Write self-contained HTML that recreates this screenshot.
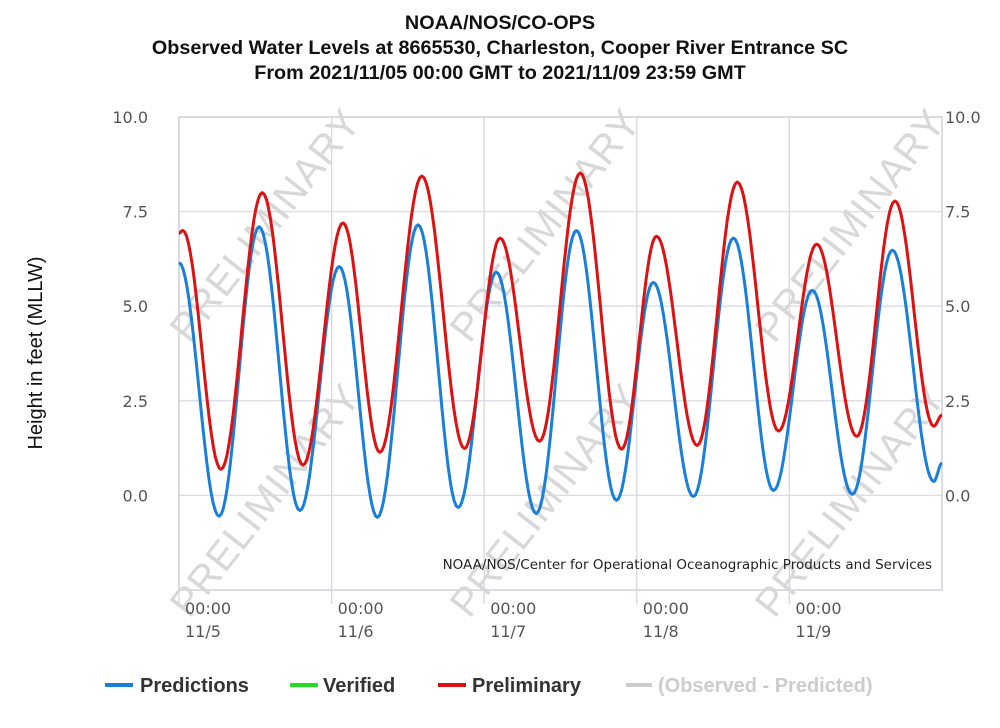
<!DOCTYPE html>
<html><head><meta charset="utf-8"><style>
body{margin:0;background:#fff;}
svg{display:block;font-family:"Liberation Sans",sans-serif;}
</style></head><body>
<svg id="chart" width="1000" height="728" viewBox="0 0 1000 728">
<g font-weight="bold" font-size="19.8" text-anchor="middle" fill="#111">
<text x="500" y="29">NOAA/NOS/CO-OPS</text>
<text x="500" y="54">Observed Water Levels at 8665530, Charleston, Cooper River Entrance SC</text>
<text x="500" y="79">From 2021/11/05 00:00 GMT to 2021/11/09 23:59 GMT</text>
</g>
<text transform="translate(42,353) rotate(-90)" text-anchor="middle" font-size="20" fill="#111">Height in feet (MLLW)</text>
<g id="grid"></g>
<g id="watermarks" font-size="40" fill="#d8d8d8" text-anchor="middle" letter-spacing="1"></g>
<text x="932" y="569" text-anchor="end" font-family="DejaVu Sans, sans-serif" font-size="13.5" fill="#222">NOAA/NOS/Center for Operational Oceanographic Products and Services</text>
<g id="series"></g>
<g id="axes" font-family="DejaVu Sans, sans-serif"></g>
<g font-weight="bold" font-size="20">
<g><rect x="105" y="683" width="28" height="4" fill="#1a7fd9"/><text x="140" y="692" fill="#333">Predictions</text></g>
<g><rect x="290" y="683" width="28" height="4" fill="#22dd22"/><text x="323" y="692" fill="#333">Verified</text></g>
<g><rect x="438" y="683" width="28" height="4" fill="#dd1111"/><text x="472" y="692" fill="#333">Preliminary</text></g>
<g><rect x="626" y="683" width="26" height="4" fill="#cccccc"/><text x="658" y="692" fill="#cccccc">(Observed - Predicted)</text></g>
</g>
</svg>
<script>
// Data: extrema (hours since 11/05 00:00 GMT, feet)
const predHours = [0,6.3,12.6,19.0,25.2,31.2,37.6,43.9,49.9,56.2,62.5,68.8,74.6,80.9,87.2,93.5,99.6,105.9,112.2,118.7,120];
const predValues = [6.15,-0.55,7.1,-0.4,6.05,-0.58,7.15,-0.32,5.9,-0.48,7.0,-0.13,5.63,-0.03,6.8,0.13,5.42,0.03,6.48,0.37,0.85];
const prelimHours = [0,0.6,6.6,13.1,19.5,25.8,31.6,38.2,44.9,50.5,56.7,63.1,69.6,75.1,81.5,87.8,94.3,100.3,106.6,112.6,118.7,120];
const prelimValues = [6.93,7.0,0.69,8.0,0.8,7.2,1.14,8.44,1.24,6.8,1.43,8.52,1.22,6.85,1.32,8.28,1.7,6.64,1.56,7.78,1.83,2.12];
const yTicks = [0,2.5,5,7.5,10];
const yTickLabels = ["0.0","2.5","5.0","7.5","10.0"];
const dayTicks = [0,24,48,72,96];
const dayLabels = ["11/5","11/6","11/7","11/8","11/9"];

const L=179,R=942,T=117,B=590;
const NS='http://www.w3.org/2000/svg';
const x=h=>L+(h/120)*(R-L);
const y=v=>B-((v+2.5)/12.5)*(B-T);
function mk(tag,attrs,parent){const e=document.createElementNS(NS,tag);for(const k in attrs)e.setAttribute(k,attrs[k]);parent.appendChild(e);return e;}
const grid=document.getElementById('grid'),axes=document.getElementById('axes'),series=document.getElementById('series'),wm=document.getElementById('watermarks');

yTicks.forEach((v,i)=>{
  const g=mk('line',{x1:L,x2:R,y1:y(v),y2:y(v),stroke:'#dcdce4','stroke-width':1.3},grid);
  
  
  const t1=mk('text',{x:148,y:y(v)+6,'text-anchor':'end','font-size':16,fill:'#555'},axes);
  t1.textContent=yTickLabels[i];
  
  
  const t2=mk('text',{x:945,y:y(v)+6,'font-size':16,fill:'#555'},axes);
  t2.textContent=yTickLabels[i];
  
  
});
dayTicks.forEach((h,i)=>{
  const g=mk('line',{x1:x(h),x2:x(h),y1:T,y2:B+14,stroke:'#d4d6e2','stroke-width':1.3},grid);
  
  
  const t=mk('text',{x:x(h)+6,y:614,'font-size':16,fill:'#555'},axes);
  t.textContent='00:00';
  
  
  const d=mk('text',{x:x(h)+6,y:637,'font-size':16,fill:'#555'},axes);
  d.textContent=dayLabels[i];
  
  
});
const frame=mk('rect',{x:L,y:T,width:R-L,height:B-T,fill:'none',stroke:'#cfd0da','stroke-width':1.5},grid);



[[265,225],[265,500],[545,225],[545,500],[850,225],[850,500]].forEach(p=>{
  const t=mk('text',{x:p[0],y:p[1]+14,transform:`rotate(-52 ${p[0]} ${p[1]})`},wm);
  t.textContent='PRELIMINARY';
  
  
});

function pathFrom(hs,vs){
  let d='';
  for(let i=0;i<hs.length-1;i++){
    const h0=hs[i],h1=hs[i+1],v0=vs[i],v1=vs[i+1];
    for(let s=0;s<=20;s++){
      const f=s/20,h=h0+(h1-h0)*f,v=v0+(v1-v0)*(1-Math.cos(Math.PI*f))/2;
      d+=(d?'L':'M')+x(h).toFixed(1)+','+y(v).toFixed(1);
    }
  }
  return d;
}
const pp=mk('path',{d:pathFrom(predHours,predValues),fill:'none',stroke:'#1a7fd9','stroke-width':3,'stroke-linejoin':'round'},series);


const pr=mk('path',{d:pathFrom(prelimHours,prelimValues),fill:'none',stroke:'#dd1111','stroke-width':3,'stroke-linejoin':'round'},series);


</script>
</body></html>
